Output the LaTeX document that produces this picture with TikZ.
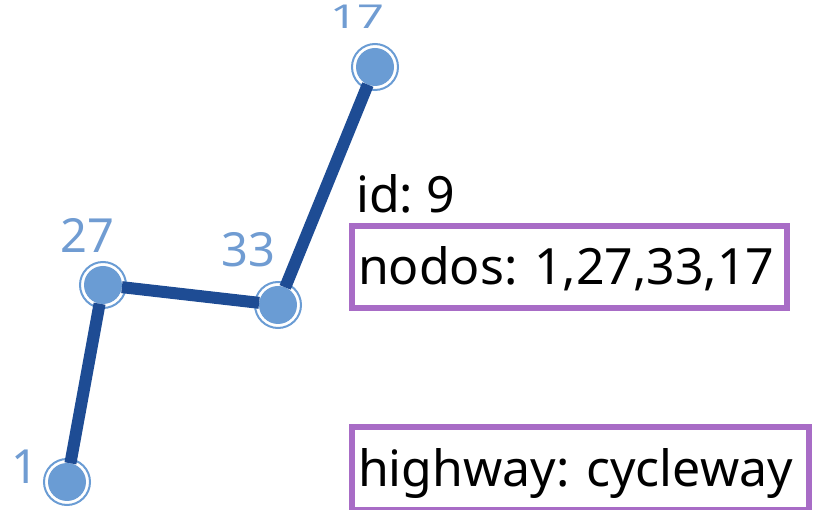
\documentclass[tikz,border=0pt]{standalone}
\usepackage{fontspec}
\setmainfont{Noto Sans}
\usepackage{tikz}
\definecolor{viaazul}{RGB}{30,76,148}
\definecolor{nodoazul}{RGB}{106,156,212}
\definecolor{etiqazul}{RGB}{112,156,210}
\definecolor{cajamorado}{RGB}{168,108,198}
\tikzset{
  nodo/.style = {circle, draw=nodoazul, line width=2pt, fill=white,
    minimum size=46pt, inner sep=0pt,
    path picture={\fill[nodoazul] (path picture bounding box.center) circle (19pt);}},
  etiq/.style = {text=etiqazul, inner sep=0pt, font=\fontsize{47}{50}\selectfont},
  via/.style = {line width=12pt, draw=viaazul, shorten <=-5pt, shorten >=-5pt},
  caja/.style = {draw=cajamorado, line width=6pt, anchor=north west, align=left,
    inner xsep=6pt, inner ysep=0pt, text height=36pt, text depth=0pt,
    font=\fontsize{50}{54}\selectfont}
}

\begin{document}
\frenchspacing
\begin{tikzpicture}[x=1pt, y=-1pt]
          \useasboundingbox (0,0) rectangle (815,510);
          \node[nodo] (n1) at (67,482) {};
          \node[nodo] (n27) at (103,285) {};
          \node[nodo] (n33) at (278,305) {};
          \node[nodo] (n17) at (375,67) {};
          \draw[via] (n1) -- (n27);
          \draw[via] (n27) -- (n33);
          \draw[via] (n33) -- (n17);
          \node[etiq] (e1) at (25,467) {1};
          \node[etiq] (e27) at (87,235) {27};
          \node[etiq] (e33) at (248,250) {33};
          \node[etiq] (e17) at (357.5,16.5) {\scalebox{1}[0.7]{17}};
          \node[anchor=base west, inner sep=0pt, font=\fontsize{50}{54}\selectfont] (id) at (356,213) {id: 9};
          \node[caja, text width=423pt, minimum height=82pt] (nodos) at (349,223) {nodos: 1,27,33,17};
          \node[caja, text width=445pt, minimum height=83pt] (highway) at (349,424) {highway: cycleway};
        \end{tikzpicture}
\end{document}
